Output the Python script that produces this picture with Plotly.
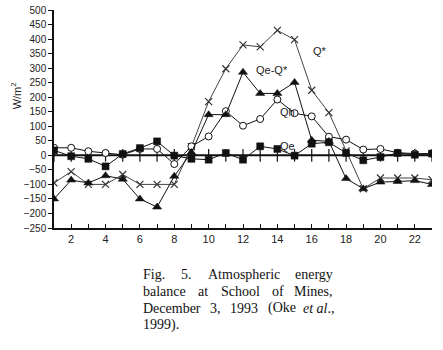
import plotly.graph_objects as go

hours = list(range(1, 24))
tick_labels = ["" if h % 2 else str(h) for h in hours]

# Net radiation Q* (x markers)
q_star = [-95, -56, -100, -100, -66, -100, -100, -100, 30, 185, 298, 380, 373, 430, 398,
          224, 147, 15, -115, -78, -78, -78, -84]
# Qe-Q* (filled triangles)
q_tri = [-150, -85, -95, -70, -82, -150, -178, -72, 10, 140, 140, 286, 213, 213, 251,
         52, 48, -80, -115, -92, -90, -87, -100]
# Qh (open circles)
q_h = [26, 26, 14, 8, 2, 22, 22, -30, 31, 65, 152, 102, 125, 192, 145,
       134, 64, 54, 20, 22, 9, 6, 6]
# Qe (filled squares)
q_e = [17, -3, -12, -38, 5, 25, 48, -1, -12, -15, 8, -15, 31, 22, -1,
       40, 45, 8, -17, -6, 8, 2, 6]
baseline = [0] * len(hours)

ink = "#111111"
fig = go.Figure()

fig.add_trace(go.Scatter(x=hours, y=baseline, mode="lines+markers",
                         line=dict(color=ink, width=2),
                         marker=dict(symbol="line-ns", size=9,
                                     line=dict(color=ink, width=1.2)),
                         hoverinfo="skip"))
fig.add_trace(go.Scatter(x=hours, y=q_star, mode="lines+markers",
                         line=dict(color="#444444", width=1),
                         marker=dict(symbol="x-thin", size=7,
                                     line=dict(color="#333333", width=1.2))))
fig.add_trace(go.Scatter(x=hours, y=q_h, mode="lines+markers",
                         line=dict(color=ink, width=1),
                         marker=dict(symbol="circle", size=7, color="white",
                                     line=dict(color=ink, width=1))))
fig.add_trace(go.Scatter(x=hours, y=q_e, mode="lines+markers",
                         line=dict(color=ink, width=1),
                         marker=dict(symbol="square", size=7, color=ink,
                                     line=dict(color=ink, width=0.5))))
fig.add_trace(go.Scatter(x=hours, y=q_tri, mode="lines+markers",
                         line=dict(color=ink, width=1),
                         marker=dict(symbol="triangle-up", size=8, color=ink,
                                     line=dict(color=ink, width=0.5))))

label_font = dict(family="Liberation Sans", size=11, color="#222222")
for txt, x, y in [("Q*", 16.5, 360), ("Qe-Q*", 13.7, 295), ("Qh", 14.6, 150), ("Qe", 14.6, 31)]:
    fig.add_annotation(x=x, y=y, text=txt, showarrow=False, font=label_font,
                       xref="x", yref="y")

fig.add_annotation(x=-0.122, y=0.679, xref="paper", yref="paper", text="W/m<sup>2</sup>",
                   showarrow=False, textangle=-90,
                   font=dict(family="Liberation Sans", size=11, color="#222222"))

# caption, justified word by word (x in page pixels -> paper)
cap_font = dict(family="Liberation Serif", size=14, color="#111111")
caption_words = [
    [("Fig.", 142, "left"), ("5.", 180, "left"), ("Atmospheric", 207, "left"), ("energy", 334, "right")],
    [("balance", 142, "left"), ("at", 197, "left"), ("School", 220, "left"), ("of", 271, "left"),
     ("Mines,", 334, "right")],
    [("December", 142, "left"), ("3,", 209, "left"), ("1993", 229, "left"), ("(Oke", 267, "left"),
     ("<i>et al</i>.,", 336, "right")],
    [("1999).", 142, "left")],
]
caption_rows = [274, 291, 308, 325]
for words, ypx in zip(caption_words, caption_rows):
    for w, xpx, anc in words:
        fig.add_annotation(x=(xpx - 54) / 378, y=(228 - ypx) / 218, xref="paper", yref="paper",
                           text=w, showarrow=False, xanchor=anc, yanchor="middle",
                           font=cap_font, borderpad=0)

fig.update_layout(
    width=443, height=350,
    margin=dict(l=54, r=11, t=10, b=122, autoexpand=False),
    paper_bgcolor="white", plot_bgcolor="white",
    showlegend=False,
    xaxis=dict(range=[1, 23], tickvals=hours, ticktext=tick_labels,
               ticks="inside", ticklen=4, tickcolor=ink, automargin=False,
               showline=True, linecolor=ink, linewidth=1.5,
               showgrid=False, zeroline=False,
               tickfont=dict(family="Liberation Sans", size=11, color="#222222")),
    yaxis=dict(range=[-250, 500], dtick=50, tick0=0, automargin=False,
               ticks="outside", ticklen=4, tickcolor=ink,
               showline=True, linecolor=ink, linewidth=1.5,
               showgrid=False, zeroline=False,
               tickfont=dict(family="Liberation Sans", size=10, color="#222222")),
)

fig.write_html("out.html", config={"displayModeBar": False},
               post_script="document.body.style.margin='0px';")
